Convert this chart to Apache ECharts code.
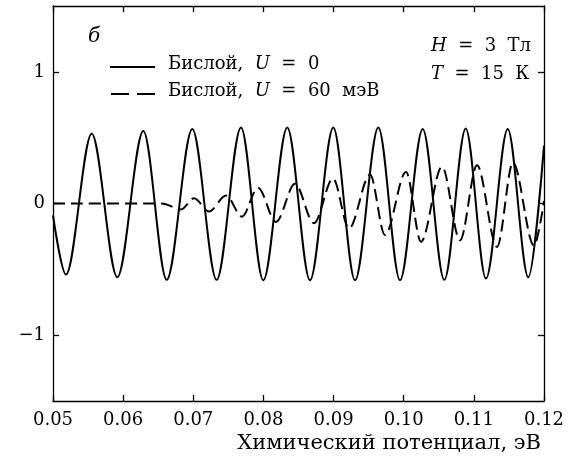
<!DOCTYPE html>
<html>
<head>
<meta charset="utf-8">
<script src="https://cdn.jsdelivr.net/npm/echarts@6/dist/echarts.min.js"></script>
<style>
html,body{margin:0;padding:0;background:#fff;}
#chart{width:577px;height:465px;}
</style>
</head>
<body>
<div id="chart"></div>
<script>
// ---- Data ----
const seriesNames = ['Бислой, U = 0', 'Бислой, U = 60 мэВ'];
const xTickLabels = ['0.05','0.06','0.07','0.08','0.09','0.10','0.11','0.12'];
const yTickValues = [-1, 0, 1];

// Solid curve: start, extrema, end
const solidX = [0.05000,0.05185,0.05552,0.05917,0.06288,0.06621,0.06986,0.07333,0.07680,0.07998,
  0.08340,0.08664,0.08996,0.09306,0.09638,0.09947,0.10271,0.10579,0.10884,0.11173,
  0.11483,0.11776,0.12000];
const solidY = [-0.09,-0.54,0.53,-0.56,0.55,-0.58,0.565,-0.58,0.578,-0.583,
  0.578,-0.583,0.578,-0.583,0.578,-0.583,0.565,-0.58,0.57,-0.57,
  0.565,-0.56,0.44];

// Dashed curve: flat start, extrema, end
const dashX = [0.05000,0.06550,0.06825,0.07010,0.07224,0.07467,0.07695,0.07923,0.08179,0.08450,
  0.08720,0.08992,0.09220,0.09520,0.09733,0.10033,0.10247,0.10546,0.10803,0.11045,
  0.11330,0.11558,0.11858,0.12000];
const dashY = [0,0,-0.045,0.04,-0.06,0.06,-0.10,0.12,-0.14,0.15,
  -0.15,0.19,-0.19,0.22,-0.24,0.24,-0.29,0.28,-0.28,0.29,
  -0.33,0.31,-0.32,0.02];

const pair = (xs, ys) => xs.map((x, i) => [x, ys[i]]);

const FONT = 'DejaVu Serif';
const chart = echarts.init(document.getElementById('chart'), null, {renderer: 'canvas'});

const axisCommon = {
  axisLine: {show: true, onZero: false, lineStyle: {color: '#000', width: 1.3}},
  axisTick: {show: true, inside: true, length: 6, lineStyle: {color: '#000', width: 1.3}},
  splitLine: {show: false}
};

const richI = {i: {fontStyle: 'italic', fontFamily: FONT, fontSize: 18, fill: '#000'}};
function mathText(s) {
  return s.replace(', ', ',  ').replace(/\b([UHT])\b/, '{i|$1}').replace(' = ', '  =  ').replace(' мэВ', '  мэВ');
}

const option = {
  animation: false,
  backgroundColor: '#fff',
  grid: {left: 53, right: 33, top: 6, bottom: 64},
  legend: {show: false},
  xAxis: [
    Object.assign({}, axisCommon, {
      type: 'value', min: 0.05, max: 0.12, interval: 0.01, position: 'bottom',
      axisLabel: {show: true, margin: 10, color: '#000', fontFamily: FONT, fontSize: 18,
        showMinLabel: true, showMaxLabel: true,
        formatter: function (v) { const i = Math.round((v - 0.05) / 0.01); return xTickLabels[i] || ''; }},
      name: 'Химический потенциал, эВ', nameLocation: 'end', nameGap: -3,
      nameTextStyle: {fontFamily: FONT, fontSize: 21, color: '#000', align: 'right', verticalAlign: 'top', padding: [32,0,0,0]}
    }),
    Object.assign({}, axisCommon, {
      type: 'value', min: 0.05, max: 0.12, interval: 0.01, position: 'top',
      axisLabel: {show: false}
    })
  ],
  yAxis: [
    Object.assign({}, axisCommon, {
      type: 'value', min: -1.5, max: 1.5, position: 'left',
      axisTick: Object.assign({}, axisCommon.axisTick, {customValues: yTickValues}),
      axisLabel: {show: true, margin: 8, color: '#000', fontFamily: FONT, fontSize: 18,
        customValues: yTickValues,
        formatter: function (v) { return v < 0 ? '\u2212' + Math.abs(v) : String(v); }}
    }),
    Object.assign({}, axisCommon, {
      type: 'value', min: -1.5, max: 1.5, position: 'right',
      axisTick: Object.assign({}, axisCommon.axisTick, {customValues: yTickValues}),
      axisLabel: {show: false}
    })
  ],
  graphic: [
    {type: 'text', left: 88, top: 27, style: {text: 'б', font: 'italic 20px "DejaVu Serif"', fill: '#000'}},
    {type: 'text', left: 431, top: 37, style: {
      text: '{i|H}  =  3  Тл', font: '18px "DejaVu Serif"', fill: '#000', rich: richI}},
    {type: 'text', left: 431, top: 65, style: {
      text: '{i|T}  =  15  К', font: '18px "DejaVu Serif"', fill: '#000', rich: richI}},
    // legend
    {type: 'line', shape: {x1: 110, y1: 67, x2: 155, y2: 67}, style: {stroke: '#000', lineWidth: 2}},
    {type: 'text', left: 168, top: 55, style: {
      text: mathText(seriesNames[0]), font: '18px "DejaVu Serif"', fill: '#000', rich: richI}},
    {type: 'line', shape: {x1: 111, y1: 94, x2: 155, y2: 94}, style: {stroke: '#000', lineWidth: 2, lineDash: [18, 8]}},
    {type: 'text', left: 168, top: 82, style: {
      text: mathText(seriesNames[1]), font: '18px "DejaVu Serif"', fill: '#000', rich: richI}}
  ],
  series: [
    {
      name: seriesNames[0], type: 'line', xAxisIndex: 0, yAxisIndex: 0,
      data: pair(solidX, solidY), smooth: 0.33, smoothMonotone: 'x', symbol: 'none', showSymbol: false,
      lineStyle: {color: '#000', width: 2, type: 'solid'}, itemStyle: {color: '#000'}
    },
    {
      name: seriesNames[1], type: 'line', xAxisIndex: 0, yAxisIndex: 0,
      data: pair(dashX, dashY), smooth: 0.33, smoothMonotone: 'x', symbol: 'none', showSymbol: false,
      lineStyle: {color: '#000', width: 2, type: [12, 6]}, itemStyle: {color: '#000'}
    }
  ]
};
chart.setOption(option);
</script>
</body>
</html>
